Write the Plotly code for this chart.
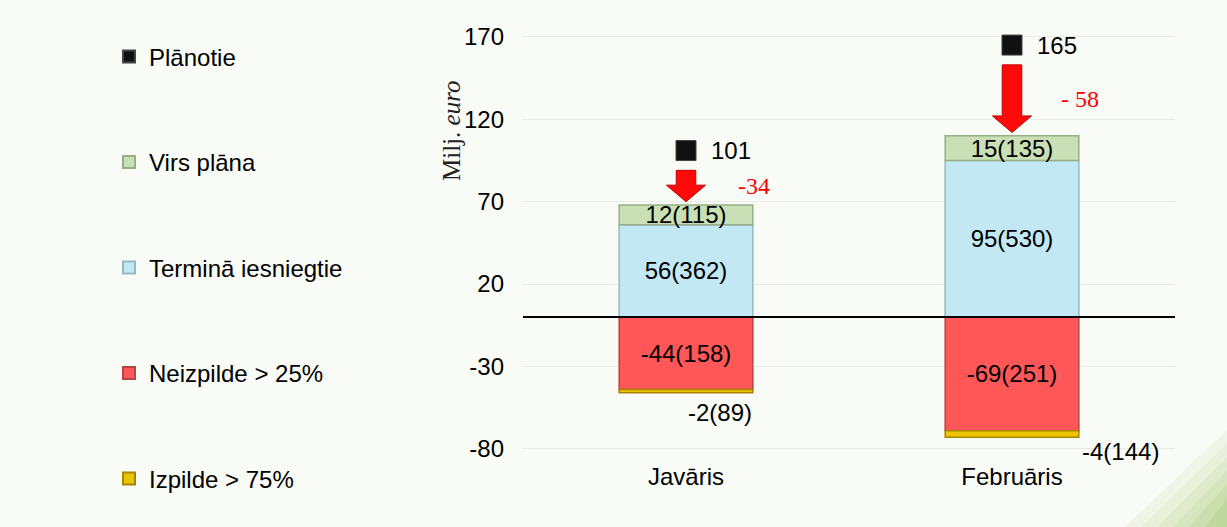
import plotly.graph_objects as go

# ---- data ----
categories = ["Javāris", "Februāris"]
planned = [101, 165]
planned_labels = ["101", "165"]
diff_labels = ["-34", "- 58"]
over_plan = [12, 15]
over_plan_counts = [115, 135]
on_time = [56, 95]
on_time_counts = [362, 530]
non_exec = [-44, -69]
non_exec_counts = [158, 251]
exec75 = [-2, -4]
exec75_counts = [89, 144]
y_ticks = [-80, -30, 20, 70, 120, 170]
y_tick_text = ["-80", "-30", "20", "70", "120", "170"]

# ---- styling ----
FONT = "Liberation Sans, Arial, sans-serif"
SERIF = "Liberation Serif, Times New Roman, serif"
BG = "#F9FBF6"
FS = 24
W, H = 1227, 527
Y_MIN, Y_MAX = -87, 175
SCALE = 1.648      # px per unit
ZERO_PX = 317
PLOT_L, PLOT_R = 523, 1175
PLOT_T = ZERO_PX - Y_MAX * SCALE
PLOT_B = ZERO_PX - Y_MIN * SCALE

x_pos = list(range(len(categories)))


def lbl(v, c):
    return f"{v}({c})"


def px(xp):
    return (xp - PLOT_L) / (PLOT_R - PLOT_L)


def py(yp):
    return (H - yp) / H


fig = go.Figure()

bar_w = 0.41
fig.add_trace(go.Bar(
    x=x_pos, y=on_time, name="Terminā iesniegtie", width=bar_w,
    marker=dict(color="#C2E8F4", line=dict(color="#93B9C4", width=1.5)),
    text=[lbl(v, c) for v, c in zip(on_time, on_time_counts)],
    textposition="inside", insidetextanchor="middle", constraintext="none",
    textfont=dict(family=FONT, size=FS, color="black"),
    legendgroup="g3", legendrank=3))
fig.add_trace(go.Bar(
    x=x_pos, y=over_plan, name="Virs plāna", width=bar_w,
    marker=dict(color="#C9E0B6", line=dict(color="#97AE86", width=1.5)),
    text=[lbl(v, c) for v, c in zip(over_plan, over_plan_counts)],
    textposition="inside", insidetextanchor="middle", constraintext="none",
    textfont=dict(family=FONT, size=FS, color="black"),
    legendgroup="g2", legendrank=2))
fig.add_trace(go.Bar(
    x=x_pos, y=non_exec, name="Neizpilde > 25%", width=bar_w,
    marker=dict(color="#FF5757", line=dict(color="#B84444", width=1.5)),
    text=[lbl(v, c) for v, c in zip(non_exec, non_exec_counts)],
    textposition="inside", insidetextanchor="middle", constraintext="none",
    textfont=dict(family=FONT, size=FS, color="black"),
    legendgroup="g4", legendrank=4))
fig.add_trace(go.Bar(
    x=x_pos, y=exec75, name="Izpilde > 75%", width=bar_w,
    marker=dict(color="#EBC300", line=dict(color="#A88400", width=1.5)),
    legendgroup="g5", legendrank=5))
fig.add_trace(go.Scatter(
    x=x_pos, y=planned, name="Plānotie", mode="markers",
    marker=dict(symbol="square", size=20, color="#111111",
                line=dict(color="#444444", width=1)),
    legendgroup="g1", legendrank=1))

# arrows from planned value down to top of the bar
totals = [a + b for a, b in zip(on_time, over_plan)]
shaft_hw, head_hw, head_len = 0.03, 0.06, 10
for i, (p, t) in enumerate(zip(planned, totals)):
    top = p - 12
    tip = t + 2
    neck = tip + head_len
    xs = [i - shaft_hw, i + shaft_hw, i + shaft_hw, i + head_hw, i,
          i - head_hw, i - shaft_hw, i - shaft_hw]
    ys = [top, top, neck, neck, tip, neck, neck, top]
    fig.add_trace(go.Scatter(
        x=xs, y=ys, mode="lines", fill="toself", fillcolor="#FF0A0A",
        line=dict(color="#C00000", width=1), showlegend=False,
        hoverinfo="skip"))
    fig.add_annotation(x=i + 0.21, y=(top + tip) / 2, text=diff_labels[i],
                       showarrow=False,
                       font=dict(family=SERIF, size=FS, color="#FF0000"))
    fig.add_annotation(x=i, y=p, text=planned_labels[i], showarrow=False,
                       xshift=45, font=dict(family=FONT, size=FS, color="black"))

# outside labels for the small yellow segments
ext_shift = [(34, -20), (108, -14)]
for i, (v, c) in enumerate(zip(exec75, exec75_counts)):
    bottom = non_exec[i] + v
    fig.add_annotation(x=i, y=bottom, text=lbl(v, c), showarrow=False,
                       xshift=ext_shift[i][0], yshift=ext_shift[i][1],
                       font=dict(family=FONT, size=FS, color="black"))

# y-axis title
fig.add_annotation(xref="paper", yref="paper", x=px(452), y=py(131),
                   xanchor="center", yanchor="middle",
                   text="Milj. <i>euro</i>", textangle=-90, showarrow=False,
                   font=dict(family=SERIF, size=25, color="#222222"))

# decorative green stripes bottom-right
stripe_cols = ["#F1F5E8", "#E8F0DA", "#DFEBCC", "#D5E5BD", "#CBDFAE", "#C0D89E"]
shapes = []
for k, col in enumerate(stripe_cols):
    off = k * 16
    x0 = 1125 + off
    y0 = 430 + off * 0.85
    path = f"M{px(x0)},{py(H)} L{px(W)},{py(y0)} L{px(W)},{py(H)} Z"
    shapes.append(dict(type="path", xref="paper", yref="paper", path=path,
                       fillcolor=col, line=dict(width=0), layer="below"))
# zero line
shapes.append(dict(type="line", xref="paper", yref="y", x0=0, x1=1, y0=0, y1=0,
                   line=dict(color="black", width=2)))

fig.update_layout(
    width=W, height=H,
    margin=dict(l=PLOT_L, r=W - PLOT_R, t=0, b=0, pad=0, autoexpand=False),
    paper_bgcolor=BG, plot_bgcolor=BG,
    barmode="relative",
    shapes=shapes,
    font=dict(family=FONT, size=FS, color="black"),
    showlegend=True,
    legend=dict(x=px(109), xanchor="left", y=py(34.5), yanchor="top",
                traceorder="grouped", tracegroupgap=71.3, itemsizing="constant",
                font=dict(family=FONT, size=FS, color="black"),
                bgcolor="rgba(0,0,0,0)"),
    xaxis=dict(range=[-0.5, 1.5], tickvals=x_pos, ticktext=categories,
               showgrid=False, zeroline=False, showline=False, ticks="",
               automargin=False,
               tickfont=dict(family=FONT, size=FS, color="black")),
    yaxis=dict(range=[Y_MIN, Y_MAX], tickvals=y_ticks, ticktext=y_tick_text,
               domain=[py(PLOT_B), py(PLOT_T)], automargin=False,
               showgrid=True, gridcolor="#E9ECE5", gridwidth=1,
               zeroline=False, showline=False, ticks="", ticklabelstandoff=18,
               tickfont=dict(family=FONT, size=FS, color="black")),
)

fig.write_html("out.html",
               config={"displayModeBar": False},
               post_script="document.body.style.margin='0';"
                           "document.body.style.background='#F9FBF6';")
